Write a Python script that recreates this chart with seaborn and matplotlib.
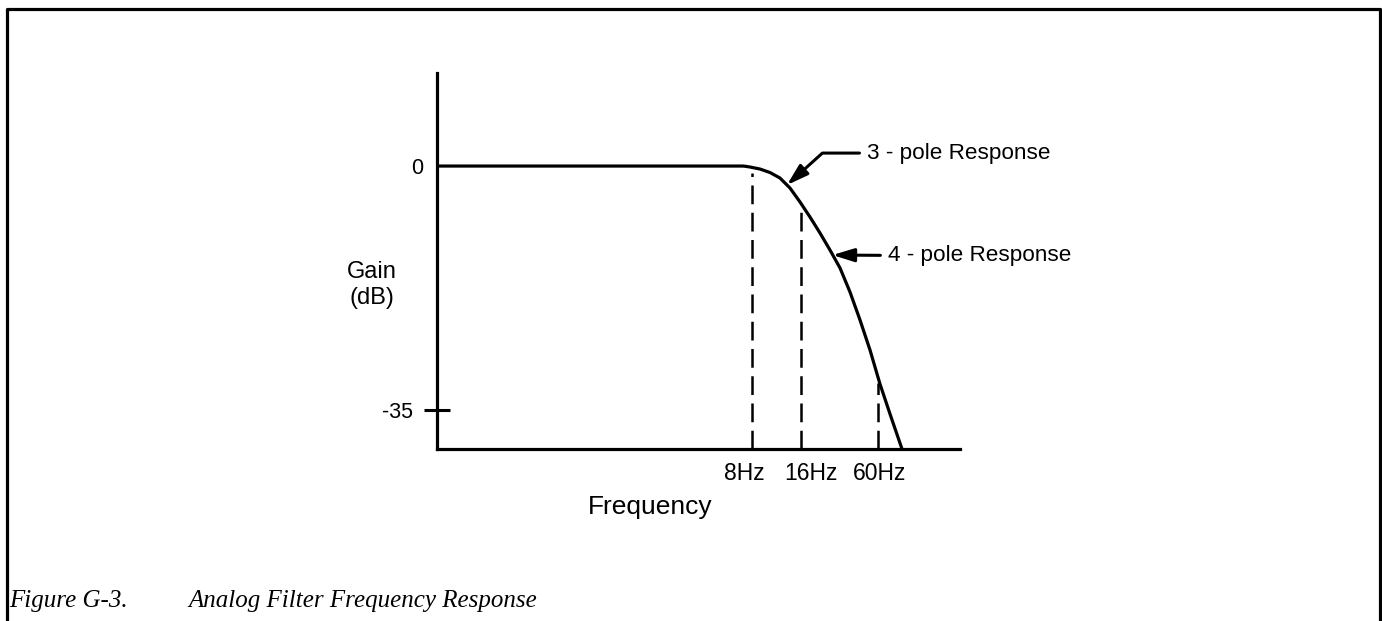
import matplotlib
matplotlib.use("Agg")
import matplotlib.pyplot as plt
import matplotlib.transforms as mtransforms
from matplotlib.lines import Line2D
import numpy as np
import pandas as pd
import seaborn as sns

# Frequency axis is a schematic position scale (0-100), gain in dB
curve_x = [0, 30, 58.5, 58.9, 59.85, 61.76, 63.67, 65.58, 67.5, 69.41, 71.32,
           73.23, 75.14, 77.06, 78.97, 80.88, 82.79, 84.7, 86.62, 88.91]
curve_db = [0, 0, 0, -0.03, -0.14, -0.43, -0.93, -1.72, -3.16, -5.16, -7.32,
            -9.61, -12.05, -14.63, -18.08, -22.09, -26.39, -31.27, -35.58, -40.6]

marker_x = [60.2, 69.6, 84.3]          # dashed guide lines
marker_top = [-1.0, -6.3, -31.1]       # where each guide stops below the curve
marker_labels = ["8Hz", "16Hz", "60Hz"]

ytick_vals = [-35, 0]
ytick_labels = ["-35", "0"]

y_lim = (-40.6, 13.35)
x_lim = (0, 100)

sns.set_style("white")
plt.rcParams["font.family"] = ["Liberation Sans", "DejaVu Sans"]
plt.rcParams["text.color"] = "black"

fig = plt.figure(figsize=(13.82, 6.21), dpi=100)
W, H = 1382, 621
ax = fig.add_axes([437 / W, (H - 449) / H, (960 - 437) / W, (449 - 73) / H])

df = pd.DataFrame({"freq": curve_x, "gain": curve_db})
sns.lineplot(data=df, x="freq", y="gain", ax=ax, color="black", lw=2.3,
             sort=False, estimator=None)

for xv, top in zip(marker_x, marker_top):
    ax.plot([xv, xv], [y_lim[0], top], color="black", lw=1.8,
            linestyle=(0, (7.5, 3.4)), solid_capstyle="butt", dash_capstyle="butt")

ax.set_xlim(*x_lim)
ax.set_ylim(*y_lim)

for s in ["top", "right"]:
    ax.spines[s].set_visible(False)
for s in ["left", "bottom"]:
    ax.spines[s].set_linewidth(2.3)
    ax.spines[s].set_color("black")

ax.set_xticks(marker_x, marker_labels)
ax.tick_params(axis="x", bottom=False, length=0, pad=9, labelsize=16.5,
               colors="black")
ax.set_yticks(ytick_vals, ytick_labels)
ax.tick_params(axis="y", left=True, direction="inout", length=19, width=2.2,
               pad=8, labelsize=15.5, colors="black")

# the 0 dB level carries only its label, set closer to the axis
yt = ax.yaxis.get_major_ticks()
yt[1].tick1line.set_visible(False)
yt[1].set_pad(0.5)

# nudge the frequency labels sideways so they do not crowd each other
label_shift_px = [-8, 9.5, 1.5]
for tick, dx in zip(ax.xaxis.get_major_ticks(), label_shift_px):
    off = mtransforms.ScaledTranslation(dx / 100, 0, fig.dpi_scale_trans)
    tick.label1.set_transform(tick.label1.get_transform() + off)

ax.set_xlabel("Frequency", fontsize=19, color="black")
ax.xaxis.set_label_coords(0.407, -0.154)
ax.xaxis.label.set_va("center")

ax.set_ylabel("Gain\n(dB)", fontsize=17, rotation=0, color="black",
              ha="center", va="center", linespacing=1.25)
ax.yaxis.set_label_coords(-0.124, 0.436)

arrow_kw = dict(arrowstyle="-|>,head_length=0.65,head_width=0.2",
                color="black", lw=2.2, mutation_scale=20, shrinkA=3, shrinkB=0)
ax.annotate("3 - pole Response", xy=(66.9, -2.73), xytext=(82.2, 1.86),
            fontsize=16.2, va="center", ha="left", color="black",
            arrowprops=dict(connectionstyle="angle,angleA=0,angleB=42,rad=0", **arrow_kw))
ax.annotate("4 - pole Response", xy=(75.6, -12.77), xytext=(86.2, -12.9),
            fontsize=16.2, va="center", ha="left", color="black",
            arrowprops=dict(connectionstyle="arc3", **arrow_kw))

# Frame around the figure (open at the bottom)
fx = [7 / W, 7 / W, 1379.5 / W, 1379.5 / W]
fy = [0, 1 - 8.5 / H, 1 - 8.5 / H, 0]
fig.add_artist(Line2D(fx, fy, transform=fig.transFigure, color="black", lw=2.3))

cap_font = ["Liberation Serif", "DejaVu Serif"]
fig.text(9 / W, (H - 607) / H, "Figure G-3.", family=cap_font, style="italic",
         fontsize=18, va="baseline", ha="left", color="black")
fig.text(188 / W, (H - 607) / H, "Analog Filter Frequency Response", family=cap_font,
         style="italic", fontsize=18, va="baseline", ha="left", color="black")

fig.savefig("out.png", dpi=100)
